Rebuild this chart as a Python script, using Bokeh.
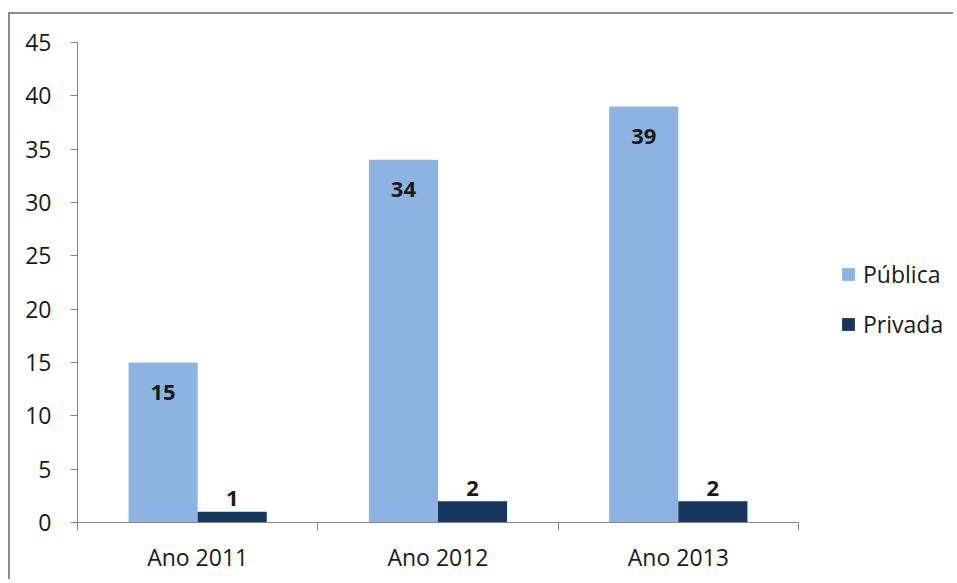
from bokeh.plotting import figure
from bokeh.models import (ColumnDataSource, FixedTicker, Range1d, Legend, LegendItem, LabelSet)
from bokeh.core.properties import value
from bokeh.embed import file_html
from bokeh.resources import INLINE

categories = ["Ano 2011", "Ano 2012", "Ano 2013"]
publica = [15, 34, 39]
privada = [1, 2, 2]
y_ticks = [0, 5, 10, 15, 20, 25, 30, 35, 40, 45]

C_PUB = "#8DB3E2"
C_PRI = "#17375E"
AX = "#868686"
TXT = "#1a1a1a"
FONT = "Open Sans"

n = len(categories)
centers = [i + 0.5 for i in range(n)]
bw = 0.2875
pub_x = [c - bw / 2 for c in centers]
pri_x = [c + bw / 2 for c in centers]

src_pub = ColumnDataSource(dict(x=pub_x, top=publica, lab=[str(v) for v in publica]))
src_pri = ColumnDataSource(dict(x=pri_x, top=privada, lab=[str(v) for v in privada]))

W, H = 945, 567
LEFT, AXIS_W = 67, 721            # frame left (canvas px), width of the category axis (px)
frame_w = W - LEFT
x_end = n * frame_w / AXIS_W      # frame extends past the axis to hold the legend

p = figure(width=W, height=H, output_backend="svg", toolbar_location=None,
           x_range=Range1d(0, x_end), y_range=Range1d(0, 45),
           min_border_left=LEFT, min_border_top=28, min_border_bottom=H - 508, min_border_right=0)
p.styles = {"box-shadow": "-2px -2px 0 0 #8c8c8c", "margin-top": "14px", "margin-left": "10px"}
p.outline_line_color = None
p.xgrid.visible = False
p.ygrid.visible = False
p.background_fill_color = "white"
p.border_fill_color = "white"

r_pub = p.vbar(x="x", top="top", width=bw, source=src_pub, fill_color=C_PUB, line_color=None)
r_pri = p.vbar(x="x", top="top", width=bw, source=src_pri, fill_color=C_PRI, line_color=None)

p.add_layout(LabelSet(x="x", y="top", text="lab", source=src_pub, text_align="center",
                      text_baseline="middle", y_offset=-30, text_font=value(FONT),
                      text_font_size=value("22px"), text_font_style=value("bold"), text_color=value(TXT)))
p.add_layout(LabelSet(x="x", y="top", text="lab", source=src_pri, text_align="center",
                      text_baseline="middle", y_offset=13, text_font=value(FONT),
                      text_font_size=value("22px"), text_font_style=value("bold"), text_color=value(TXT)))

# y axis
ya = p.yaxis[0]
ya.ticker = FixedTicker(ticks=y_ticks)
ya.axis_line_color = AX
ya.major_tick_line_color = AX
ya.major_tick_out = 7
ya.major_tick_in = 0
ya.minor_tick_line_color = None
ya.major_label_standoff = 19
ya.major_label_text_font = FONT
ya.major_label_text_font_size = "23px"
ya.major_label_text_color = TXT

# x axis
xa = p.xaxis[0]
xa.bounds = (0, n)
xa.ticker = FixedTicker(ticks=centers, minor_ticks=list(range(n + 1)))
xa.major_label_overrides = {c: cat for c, cat in zip(centers, categories)}
xa.axis_line_color = AX
xa.major_tick_line_color = None
xa.major_tick_out = 0
xa.major_tick_in = 0
xa.minor_tick_line_color = AX
xa.minor_tick_out = 8
xa.minor_tick_in = 0
xa.major_label_standoff = 10
xa.major_label_text_font = FONT
xa.major_label_text_font_size = "23px"
xa.major_label_text_color = TXT

legend = Legend(items=[LegendItem(label="Pública", renderers=[r_pub]),
                       LegendItem(label="Privada", renderers=[r_pri])],
                location=(763, 182), orientation="vertical")
legend.border_line_color = None
legend.background_fill_alpha = 0
legend.padding = 0
legend.margin = 0
legend.spacing = 18
legend.glyph_width = 16
legend.glyph_height = 16
legend.label_standoff = 7
legend.label_text_font = FONT
legend.label_text_font_size = "23px"
legend.label_text_color = TXT
p.add_layout(legend, "center")

open("out.html", "w").write(file_html(p, INLINE))
